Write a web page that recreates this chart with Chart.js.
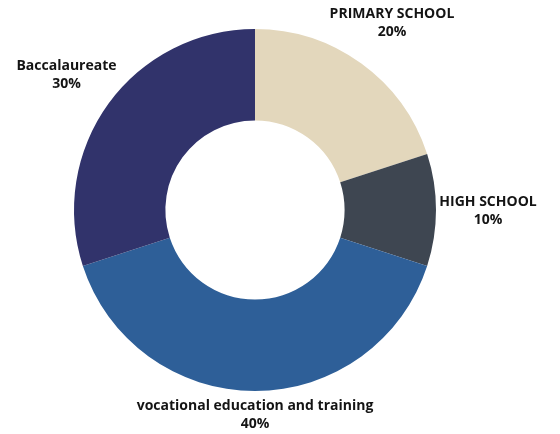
<!DOCTYPE html>
<html>
<head>
<meta charset="utf-8">
<script src="https://cdn.jsdelivr.net/npm/chart.js@4/dist/chart.umd.min.js"></script>
<style>
    html, body { margin: 0; padding: 0; background: #ffffff; }
    #wrap { width: 560px; height: 434px; position: relative; }
</style>
</head>
<body>
<div id="wrap"><canvas id="education-chart"></canvas></div>
<script>
// Share of students by type of schooling
const categories = ['PRIMARY SCHOOL', 'HIGH SCHOOL', 'vocational education and training', 'Baccalaureate'];
const shares = [20, 10, 40, 30];
const sliceColors = ['#e3d7bc', '#3e4651', '#2e5f98', '#31336b'];

// Draws "name / value%" outside each slice, pushed back inside the canvas if needed
const outsideLabels = {
    id: 'outsideLabels',
    afterDatasetsDraw(chart) {
        const ctx = chart.ctx;
        const meta = chart.getDatasetMeta(0);
        const lineHeight = 18;
        ctx.save();
        ctx.font = 'bold 14px "Open Sans"';
        ctx.fillStyle = '#141414';
        ctx.textAlign = 'center';
        ctx.textBaseline = 'middle';
        meta.data.forEach((arc, i) => {
            const p = arc.getProps(['x', 'y', 'startAngle', 'endAngle', 'outerRadius'], true);
            const mid = (p.startAngle + p.endAngle) / 2;
            const r = p.outerRadius + 52;
            let x = p.x + Math.cos(mid) * r;
            let y = p.y + Math.sin(mid) * r;
            const name = chart.data.labels[i];
            const halfW = ctx.measureText(name).width / 2;
            x = Math.min(Math.max(x, halfW + 4), chart.width - halfW - 4);
            y = Math.min(Math.max(y, lineHeight / 2 + 6), chart.height - 20) + 1.5;
            ctx.fillText(name, x, y - lineHeight / 2);
            ctx.fillText(shares[i] + '%', x, y + lineHeight / 2);
        });
        ctx.restore();
    }
};

const chart = new Chart(document.getElementById('education-chart'), {
    type: 'doughnut',
    data: {
        labels: categories,
        datasets: [{
            data: shares,
            backgroundColor: sliceColors,
            borderWidth: 0
        }]
    },
    options: {
        responsive: true,
        maintainAspectRatio: false,
        animation: false,
        cutout: '49.5%',
        layout: { padding: { top: 29, bottom: 43, left: 74, right: 124 } },
        plugins: {
            legend: { display: false },
            tooltip: { enabled: false }
        }
    },
    plugins: [outsideLabels]
});
</script>
</body>
</html>
